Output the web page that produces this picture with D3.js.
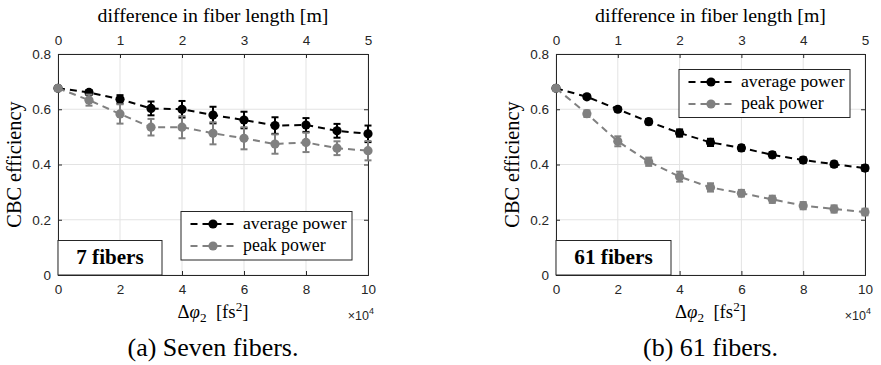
<!DOCTYPE html>
<html><head><meta charset="utf-8">
<script src="https://cdn.jsdelivr.net/npm/d3@7"></script>
<style>
body{margin:0;background:#fff;}
svg{display:block;}
.sf{font-family:"Liberation Serif",serif;}
.ss{font-family:"Liberation Sans",sans-serif;}
</style></head>
<body>
<svg id="c" width="881" height="365"></svg>
<script>
// Data (x in units of 1e4 fs^2)
const dispersion = [0,1,2,3,4,5,6,7,8,9,10];
const topTicks = [0,1,2,3,4,5];
const bottomTicks = [0,2,4,6,8,10];
const yTicks = [0,0.2,0.4,0.6,0.8];

const sevenAvg    = [0.676,0.661,0.636,0.603,0.600,0.579,0.561,0.541,0.543,0.522,0.511];
const sevenAvgErr = [0.003,0.008,0.015,0.025,0.030,0.030,0.030,0.030,0.025,0.025,0.030];
const sevenPeak   = [0.676,0.633,0.583,0.535,0.535,0.513,0.495,0.474,0.480,0.459,0.450];
const sevenPeakErr= [0.003,0.020,0.035,0.030,0.040,0.040,0.040,0.035,0.035,0.025,0.035];

const sixtyAvg    = [0.676,0.645,0.600,0.555,0.514,0.480,0.460,0.435,0.416,0.401,0.387];
const sixtyAvgErr = [0.003,0.007,0.008,0.010,0.013,0.013,0.010,0.010,0.010,0.010,0.010];
const sixtyPeak   = [0.676,0.584,0.484,0.410,0.356,0.317,0.296,0.274,0.251,0.239,0.228];
const sixtyPeakErr= [0.003,0.012,0.018,0.015,0.018,0.015,0.012,0.013,0.013,0.013,0.012];

const seriesNames = ["average power","peak power"];

const svg = d3.select("#c");
const axisCol = "#262626";
const gridCol = "#e3e3e3";
const cols = ["#000000","#808080"];

// scale a text's font so it spans a target width
function fit(sel, w){
  const cur = sel.node().getBBox().width;
  const fs = parseFloat(sel.attr("font-size"));
  if(cur>0){
    const k = w/cur;
    sel.attr("font-size", fs*k);
    sel.selectAll("tspan").each(function(){
      const t = d3.select(this);
      if(t.attr("font-size")) t.attr("font-size", parseFloat(t.attr("font-size"))*k);
    });
  }
  return sel;
}
function stext(g){ return g.append("text").attr("class","sf").attr("font-family","Liberation Serif").attr("fill","#000"); }

function panel(opt){
  const g = svg.append("g");
  const x = d3.scaleLinear().domain([0,10]).range([opt.x0, opt.x1]);
  const x2 = d3.scaleLinear().domain([0,5]).range([opt.x0, opt.x1]);
  const y = d3.scaleLinear().domain([0,0.8]).range([275,54]);

  // grid
  g.selectAll(".gx").data(bottomTicks).enter().append("line")
    .attr("x1",d=>x(d)).attr("x2",d=>x(d)).attr("y1",y(0)).attr("y2",y(0.8))
    .attr("stroke",gridCol).attr("stroke-width",1);
  g.selectAll(".gy").data(yTicks).enter().append("line")
    .attr("x1",x(0)).attr("x2",x(10)).attr("y1",d=>y(d)).attr("y2",d=>y(d))
    .attr("stroke",gridCol).attr("stroke-width",1);

  // axes
  const axB = d3.axisBottom(x).tickValues(bottomTicks).tickSize(-4).tickPadding(9).tickFormat(d3.format("d"));
  const axT = d3.axisTop(x2).tickValues(topTicks).tickSize(-4).tickPadding(9).tickFormat(d3.format("d"));
  const axL = d3.axisLeft(y).tickValues(yTicks).tickSize(-4).tickPadding(7).tickFormat(d=> d===0?"0":d3.format(".1f")(d));
  const axR = d3.axisRight(y).tickValues(yTicks).tickSize(-4).tickFormat("");
  const styleAx = s=>{ s.attr("font-family","Liberation Sans").attr("font-size",13.5);
    s.select(".domain").attr("stroke",axisCol);
    s.selectAll(".tick line").attr("stroke",axisCol);
    s.selectAll(".tick text").attr("fill",axisCol).attr("class","ss"); };
  g.append("g").attr("transform",`translate(0,${y(0)})`).call(axB).call(styleAx);
  g.append("g").attr("transform",`translate(0,${y(0.8)})`).call(axT).call(styleAx);
  g.append("g").attr("transform",`translate(${x(0)},0)`).call(axL).call(styleAx);
  g.append("g").attr("transform",`translate(${x(10)},0)`).call(axR).call(styleAx);

  // series
  const line = d3.line().x((d,i)=>x(dispersion[i])).y(d=>y(d));
  opt.series.forEach((s,k)=>{
    const c = cols[k];
    g.append("path").datum(s.v).attr("d",line).attr("fill","none")
      .attr("stroke",c).attr("stroke-width",2).attr("stroke-dasharray","7,5");
    const eb = g.append("g");
    s.v.forEach((v,i)=>{
      const xx = x(dispersion[i]), lo = y(v - s.e[i]), hi = y(v + s.e[i]);
      eb.append("line").attr("x1",xx).attr("x2",xx).attr("y1",lo).attr("y2",hi).attr("stroke",c).attr("stroke-width",2);
      [lo,hi].forEach(yy=> eb.append("line").attr("x1",xx-3.5).attr("x2",xx+3.5).attr("y1",yy).attr("y2",yy).attr("stroke",c).attr("stroke-width",2));
    });
    g.selectAll(null).data(s.v).enter().append("circle")
      .attr("cx",(d,i)=>x(dispersion[i])).attr("cy",d=>y(d)).attr("r",4.6).attr("fill",c);
  });

  // fibers box
  g.append("rect").attr("x",x(0)).attr("y",240.5).attr("width",opt.boxW).attr("height",y(0)-240.5)
    .attr("fill","#fff").attr("stroke",axisCol).attr("stroke-width",1);
  fit(stext(g).attr("x",x(0)+opt.boxW/2).attr("y",263.5).attr("text-anchor","middle")
    .attr("font-weight","bold").attr("font-size",17).text(opt.boxLabel), opt.boxTextW);

  // legend
  const L = opt.legend;
  g.append("rect").attr("x",L.x).attr("y",L.y).attr("width",L.w).attr("height",L.h)
    .attr("fill","#fff").attr("stroke",axisCol).attr("stroke-width",1);
  seriesNames.forEach((n,k)=>{
    const ly = L.y + 12.5 + k*22;
    const lx0 = L.x+9, lx1 = L.x+55;
    g.append("line").attr("x1",lx0).attr("x2",lx1).attr("y1",ly).attr("y2",ly)
      .attr("stroke",cols[k]).attr("stroke-width",2).attr("stroke-dasharray","7,5").attr("stroke-dashoffset",-0.5);
    g.append("circle").attr("cx",(lx0+lx1)/2).attr("cy",ly).attr("r",4.6).attr("fill",cols[k]);
    fit(stext(g).attr("x",L.x+62).attr("y",ly+5).attr("font-size",17).text(n), [104,83][k]);
  });

  // labels
  const cx = (opt.x0+opt.x1)/2;
  fit(stext(g).attr("x",cx).attr("y",22).attr("text-anchor","middle")
    .attr("font-size",17).text("difference in fiber length [m]"), 231);
  const xl = stext(g).attr("x",cx).attr("y",318).attr("text-anchor","middle").attr("font-size",17);
  xl.append("tspan").text("Δ");
  xl.append("tspan").attr("font-style","italic").text("φ");
  xl.append("tspan").attr("dy",4).attr("font-size",12).text("2");
  xl.append("tspan").attr("dy",-4).text("\u2002[fs");
  xl.append("tspan").attr("dy",-7).attr("font-size",12).text("2");
  xl.append("tspan").attr("dy",7).text("]");
  fit(xl, 71);
  const ex = g.append("text").attr("class","ss").attr("x",opt.x1+6).attr("y",320).attr("text-anchor","end")
    .attr("font-family","Liberation Sans").attr("font-size",12.5).attr("fill",axisCol);
  ex.append("tspan").text("×10");
  ex.append("tspan").attr("dy",-6).attr("font-size",9).text("4");
  fit(stext(g).attr("transform",`translate(${opt.yLabX},${(y(0)+y(0.8))/2}) rotate(-90)`)
    .attr("text-anchor","middle").attr("font-size",17).text("CBC efficiency"), 127);
  fit(stext(g).attr("x",cx).attr("y",356).attr("text-anchor","middle")
    .attr("font-size",19).text(opt.caption), opt.capW);
}

panel({x0:58,x1:368,yLabX:21,boxW:104,boxLabel:"7 fibers",boxTextW:68,
  legend:{x:181,y:211.5,w:171,h:48.5},caption:"(a) Seven fibers.",capW:171,
  series:[{v:sevenAvg,e:sevenAvgErr},{v:sevenPeak,e:sevenPeakErr}]});
panel({x0:556,x1:865,yLabX:519,boxW:115,boxLabel:"61 fibers",boxTextW:79,
  legend:{x:679,y:69.5,w:171,h:48},caption:"(b) 61 fibers.",capW:135,
  series:[{v:sixtyAvg,e:sixtyAvgErr},{v:sixtyPeak,e:sixtyPeakErr}]});
</script>
</body></html>
